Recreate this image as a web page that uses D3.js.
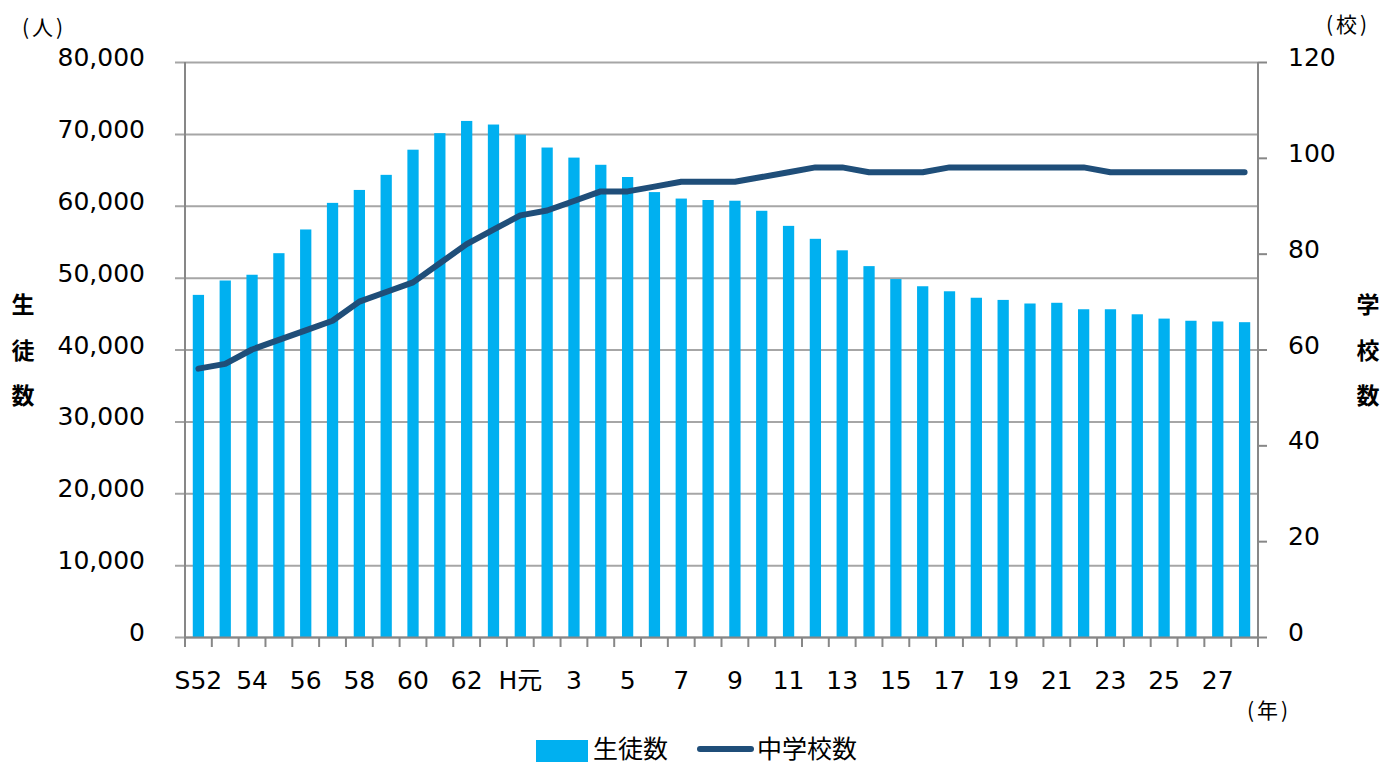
<!DOCTYPE html>
<html>
<head>
<meta charset="utf-8">
<script src="https://cdn.jsdelivr.net/npm/d3@7"></script>
<style>
  html, body { margin: 0; padding: 0; background: #fff; }
  svg { display: block; font-family: "DejaVu Sans", "Noto Sans CJK JP", sans-serif; }
</style>
</head>
<body>
<svg id="chart" width="1397" height="764"></svg>
<script>
// ---- data ----
const categories = ["S52","S53","S54","S55","S56","S57","S58","S59","S60","S61","S62","S63",
  "H元","H2","H3","H4","H5","H6","H7","H8","H9","H10","H11","H12","H13","H14","H15","H16",
  "H17","H18","H19","H20","H21","H22","H23","H24","H25","H26","H27","H28"];
const tickLabels = ["S52","","54","","56","","58","","60","","62","",
  "H元","","3","","5","","7","","9","","11","","13","","15","",
  "17","","19","","21","","23","","25","","27",""];
const students = [47600,49600,50400,53400,56700,60400,62200,64300,67800,70100,
  71800,71300,69900,68100,66700,65700,64000,61900,61000,60800,
  60700,59300,57200,55400,53800,51600,49800,48800,48100,47200,
  46900,46400,46500,45600,45600,44900,44300,44000,43900,43800];
const schools = [56,57,60,62,64,66,70,72,74,78,
  82,85,88,89,91,93,93,94,95,95,
  95,96,97,98,98,97,97,97,98,98,
  98,98,98,98,97,97,97,97,97,97];
const leftTicks = [0,10000,20000,30000,40000,50000,60000,70000,80000];
const rightTicks = [0,20,40,60,80,100,120];
const seriesNames = ["生徒数","中学校数"];

// ---- layout ----
const L = 185, R = 1258, T = 62, B = 637;
const barColor = "#00B0F0", lineColor = "#1F4E79";
const gridColor = "#A6A6A6", axisColor = "#878787";
const fs = 25;

const svg = d3.select("#chart");
const x = d3.scaleBand().domain(categories).range([L, R]).paddingInner(0).paddingOuter(0);
const yL = d3.scaleLinear().domain([0, 80000]).range([B, T]);
const yR = d3.scaleLinear().domain([0, 120]).range([B, T]);

// left axis + gridlines
const gL = svg.append("g").attr("transform", `translate(${L},0)`)
  .call(d3.axisLeft(yL).tickValues(leftTicks).tickFormat(d3.format(","))
    .tickSizeInner(-(R - L)).tickSizeOuter(0).tickPadding(40));
gL.select(".domain").remove();
gL.selectAll(".tick line").attr("x1", -10).attr("stroke", gridColor).attr("stroke-width", 2);
gL.selectAll(".tick text").attr("font-size", fs).attr("fill", "#000").attr("dy", "0.14em")
  .attr("font-family", "DejaVu Sans");

// right axis
const gR = svg.append("g").attr("transform", `translate(${R},0)`)
  .call(d3.axisRight(yR).tickValues(rightTicks).tickSizeInner(9).tickSizeOuter(0).tickPadding(21));
gR.select(".domain").remove();
gR.selectAll(".tick line").attr("stroke", axisColor).attr("stroke-width", 2);
gR.selectAll(".tick text").attr("font-size", fs).attr("fill", "#000").attr("dy", "0.14em")
  .attr("font-family", "DejaVu Sans");

// bars
const bw = x.bandwidth() * 0.42;
svg.append("g").selectAll("rect").data(students).join("rect")
  .attr("x", (d, i) => x(categories[i]) + (x.bandwidth() - bw) / 2)
  .attr("width", bw)
  .attr("y", d => yL(d))
  .attr("height", d => yL(0) - yL(d))
  .attr("fill", barColor);

// vertical axis lines
svg.append("line").attr("x1", L).attr("x2", L).attr("y1", T).attr("y2", B + 1)
  .attr("stroke", axisColor).attr("stroke-width", 2);
svg.append("line").attr("x1", R).attr("x2", R).attr("y1", T).attr("y2", B + 1)
  .attr("stroke", axisColor).attr("stroke-width", 2);

// bottom axis
const gB = svg.append("g").attr("transform", `translate(0,${B})`)
  .call(d3.axisBottom(x).tickFormat((d, i) => tickLabels[i]).tickSize(0).tickPadding(34));
gB.select(".domain").attr("stroke", axisColor).attr("stroke-width", 2);
gB.selectAll(".tick text").attr("font-size", fs).attr("fill", "#000")
  .attr("font-family", "DejaVu Sans, Noto Sans CJK JP");
// category boundary ticks
const bounds = categories.map(c => x(c)).concat([x(categories[categories.length - 1]) + x.step()]);
svg.append("g").selectAll("line").data(bounds).join("line")
  .attr("x1", d => d).attr("x2", d => d).attr("y1", B).attr("y2", B + 10)
  .attr("stroke", axisColor).attr("stroke-width", 2);

// line series
const line = d3.line()
  .x((d, i) => x(categories[i]) + x.bandwidth() / 2)
  .y(d => yR(d));
svg.append("path").datum(schools).attr("d", line)
  .attr("fill", "none").attr("stroke", lineColor).attr("stroke-width", 6)
  .attr("stroke-linejoin", "round").attr("stroke-linecap", "round");

// unit labels
const cjk = "Noto Sans CJK JP";
function unitLabel(cx, cy, ch) {
  svg.append("text").attr("x", cx).attr("y", cy).attr("text-anchor", "middle")
    .attr("font-size", 21).attr("font-family", cjk).attr("letter-spacing", 3)
    .text("(" + ch + ")");
}
unitLabel(44, 35, "人");
unitLabel(1348, 32, "校");
unitLabel(1269, 718, "年");

// vertical axis titles
const leftTitle = "生徒数", rightTitle = "学校数";
const titleYs = [305, 351, 396];
leftTitle.split("").forEach((ch, i) => {
  svg.append("text").attr("x", 23).attr("y", titleYs[i]).attr("dy", "0.36em")
    .attr("text-anchor", "middle").attr("font-size", 23).attr("font-weight", "bold")
    .attr("font-family", cjk).text(ch);
});
rightTitle.split("").forEach((ch, i) => {
  svg.append("text").attr("x", 1368).attr("y", titleYs[i]).attr("dy", "0.36em")
    .attr("text-anchor", "middle").attr("font-size", 23).attr("font-weight", "bold")
    .attr("font-family", cjk).text(ch);
});

// legend
const lg = svg.append("g");
lg.append("rect").attr("x", 536).attr("y", 740).attr("width", 52).attr("height", 22).attr("fill", barColor);
lg.append("text").attr("x", 593).attr("y", 749).attr("dy", "0.36em").attr("font-size", 25)
  .attr("font-family", cjk).text(seriesNames[0]);
lg.append("line").attr("x1", 700).attr("x2", 751).attr("y1", 749).attr("y2", 749)
  .attr("stroke", lineColor).attr("stroke-width", 6).attr("stroke-linecap", "round");
lg.append("text").attr("x", 757).attr("y", 749).attr("dy", "0.36em").attr("font-size", 25)
  .attr("font-family", cjk).text(seriesNames[1]);
</script>
</body>
</html>
